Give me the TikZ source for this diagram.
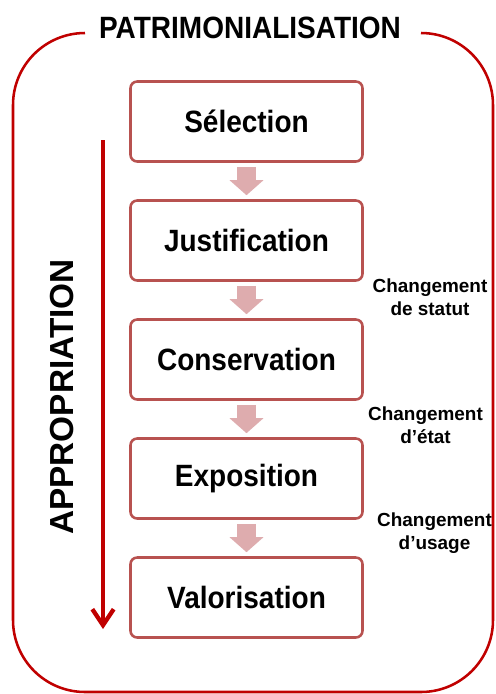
\documentclass[tikz,border=0pt]{standalone}
\usepackage{fontspec}
\usepackage{graphicx}
\setmainfont{Liberation Sans}
\usetikzlibrary{arrows.meta}
\definecolor{framered}{RGB}{192,0,0}
\definecolor{boxred}{RGB}{184,82,80}
\definecolor{pinkarr}{RGB}{222,172,174}
\newcommand{\talltext}[1]{\scalebox{1}[1.1]{#1}}
\begin{document}
\begin{tikzpicture}[x=0.75pt,y=-0.75pt,
  stagebox/.style={draw=boxred, line width=1.9pt, rounded corners=5pt, fill=white,
    minimum width=174pt, minimum height=60pt, inner sep=0pt,
    font=\bfseries\fontsize{21}{25}\selectfont},
  pinkflow/.style={draw=pinkarr, line width=14.25pt,
    -{Triangle[length=11.25pt,width=24.75pt]}},
  changelbl/.style={align=center, font=\bfseries\fontsize{14.2}{17.2}\selectfont, inner sep=0pt},
  frame/.style={draw=framered, line width=1.9pt, rounded corners=54pt}
]
\useasboundingbox (0,0) rectangle (496,694);
% outer frame
\coordinate (fA) at (85,33);
\coordinate (fB) at (13,33);
\coordinate (fC) at (13,692);
\coordinate (fD) at (493,692);
\coordinate (fE) at (493,33);
\coordinate (fF) at (421,33);
\draw[frame] (fA) -- (fB) -- (fC) -- (fD) -- (fE) -- (fF);
\node[font=\bfseries\fontsize{21}{25}\selectfont, inner sep=0pt] (title) at (250,28) {\talltext{PATRIMONIALISATION}};
% stage boxes
\node[stagebox] (s1) at (246.5,121.5) {\talltext{Sélection}};
\node[stagebox] (s2) at (246.5,240.5) {\talltext{Justification}};
\node[stagebox] (s3) at (246.5,359.5) {\talltext{Conservation}};
\node[stagebox] (s4) at (246.5,478.5) {\talltext{Exposition}};
\node[stagebox] (s5) at (246.5,597.5) {\talltext{Valorisation}};
% pink arrows
\draw[pinkflow] ([yshift=-3pt]s1.south) -- ([yshift=3pt]s2.north);
\draw[pinkflow] ([yshift=-3pt]s2.south) -- ([yshift=3pt]s3.north);
\draw[pinkflow] ([yshift=-3pt]s3.south) -- ([yshift=3pt]s4.north);
\draw[pinkflow] ([yshift=-3pt]s4.south) -- ([yshift=3pt]s5.north);
% change labels
\node[changelbl] (c1) at (430,297) {Changement\\de statut};
\node[changelbl] (c2) at (425.5,425) {Changement\\d’état};
\node[changelbl] (c3) at (434.5,533) {Changement\\d’usage};
% appropriation
\node[rotate=90, inner sep=0pt, font=\bfseries\fontsize{25}{30}\selectfont] (appr) at (62,397) {APPROPRIATION};
\coordinate (aTop) at (103,140);
\coordinate (aEnd) at (103,629);
\draw[draw=framered, line width=3.2pt, -{Straight Barb[length=12pt,width=16pt]}] (aTop) -- (aEnd);
\end{tikzpicture}
\end{document}
